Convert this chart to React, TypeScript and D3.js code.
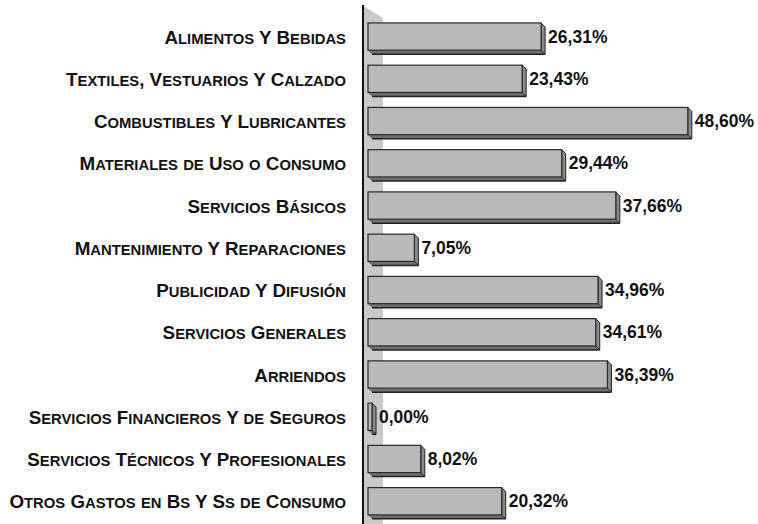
import * as d3 from "d3";

// categories and values (%)
const categories = [
  "Alimentos Y Bebidas",
  "Textiles, Vestuarios Y Calzado",
  "Combustibles Y Lubricantes",
  "Materiales de Uso o Consumo",
  "Servicios Básicos",
  "Mantenimiento Y Reparaciones",
  "Publicidad Y Difusión",
  "Servicios Generales",
  "Arriendos",
  "Servicios Financieros Y de Seguros",
  "Servicios Técnicos Y Profesionales",
  "Otros Gastos en Bs Y Ss de Consumo",
];
const values = [26.31, 23.43, 48.6, 29.44, 37.66, 7.05, 34.96, 34.61, 36.39, 0.0, 8.02, 20.32];
const valueLabels = ["26,31%", "23,43%", "48,60%", "29,44%", "37,66%", "7,05%", "34,96%", "34,61%", "36,39%", "0,00%", "8,02%", "20,32%"];

const W = 758;
const H = 524;

// fake small caps: capitals big, lower case letters upper-cased at a smaller size
function smallCaps(s: string) {
  const parts: { t: string; big: boolean }[] = [];
  for (const ch of s) {
    const big = ch !== ch.toLowerCase() || !/\p{L}/u.test(ch);
    const last = parts[parts.length - 1];
    if (last && last.big === big) last.t += ch.toUpperCase();
    else parts.push({ t: ch.toUpperCase(), big });
  }
  return parts;
}

export default function App() {
  const x = d3.scaleLinear().domain([0, 50]).range([368, 697]);
  const y = d3.scaleBand<number>().domain(d3.range(categories.length)).range([14.5, 527.3]).paddingInner(0.26).paddingOuter(0.2);
  const depth = 4;
  const font = "'Liberation Sans', Arial, sans-serif";

  return (
    <svg width={W} height={H} style={{ position: "absolute", left: 0, top: 0, background: "#fff" }}>
      {/* back wall */}
      <path d={`M363,6 L383,18 L383,${H} L363,${H} Z`} fill="#c9c9c9" />
      <line x1={363} x2={363} y1={5} y2={H} stroke="#111" strokeWidth={2} />
      {categories.map((c, i) => {
        const y0 = y(i)!;
        const h = y.bandwidth();
        const x0 = x(0);
        const x1 = Math.max(x(values[i]), x0 + 4);
        return (
          <g key={c}>
            {/* bottom face */}
            <path
              d={`M${x0},${y0 + h - depth} L${x1},${y0 + h - depth} L${x1 + depth},${y0 + h} L${x0 + depth},${y0 + h} Z`}
              fill="#6f6f6f"
            />
            {/* right face */}
            <path
              d={`M${x1},${y0} L${x1 + depth},${y0 + depth} L${x1 + depth},${y0 + h} L${x1},${y0 + h - depth} Z`}
              fill="#8a8a8a"
              stroke="#222"
              strokeWidth={1}
            />
            {/* front face */}
            <rect x={x0} y={y0} width={x1 - x0} height={h - depth} fill="#b9b9b9" stroke="#2a2a2a" strokeWidth={1.2} />
            <line x1={x0 + depth} x2={x1 + depth} y1={y0 + h} y2={y0 + h} stroke="#222" strokeWidth={1.5} />
            <text
              x={346}
              y={y0 + h / 2 + 5}
              textAnchor="end"
              fill="#111"
              fontFamily={font}
              fontWeight={700}
            >
              {smallCaps(c).map((p, k) => (
                <tspan key={k} fontSize={p.big ? 18.8 : 14.8}>
                  {p.t}
                </tspan>
              ))}
            </text>
            <text
              x={x1 + depth + 3}
              y={y0 + h / 2 + 4}
              fill="#111"
              fontFamily={font}
              fontWeight={700}
              fontSize={17.5}
            >
              {valueLabels[i]}
            </text>
          </g>
        );
      })}
    </svg>
  );
}
